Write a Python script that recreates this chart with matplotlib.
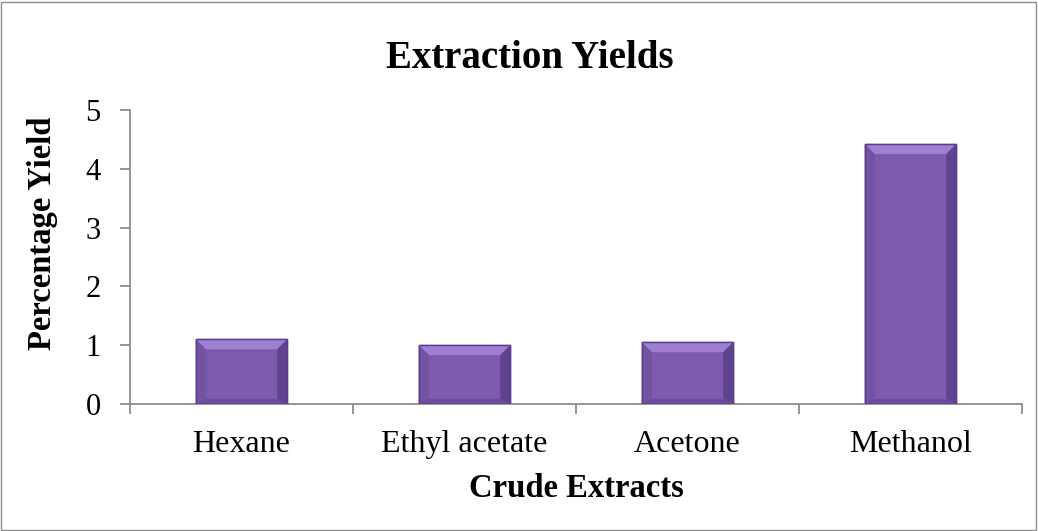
import matplotlib
matplotlib.use("Agg")
import matplotlib.pyplot as plt
from matplotlib.patches import Rectangle, Polygon
import numpy as np

categories = ["Hexane", "Ethyl acetate", "Acetone", "Methanol"]
yields = [1.1, 1.0, 1.05, 4.42]

plt.rcParams['font.family'] = ['Liberation Serif', 'DejaVu Serif']

fig = plt.figure(figsize=(10.38, 5.31), dpi=100)
ax = fig.add_axes([0.1252, 0.2392, 0.8594, 0.5536])

x = np.arange(len(categories))
bars = ax.bar(x, yields, width=0.41, color="#7d5aac", edgecolor="#5e3f8e", linewidth=1.0, zorder=3)

# bevel effect derived from each bar's geometry
bx = 0.045  # horizontal bevel (data units)
by = 0.17   # vertical bevel (data units)
for b in bars:
    x0, w, h = b.get_x(), b.get_width(), b.get_height()
    x1 = x0 + w
    bb = min(by, h * 0.3)
    top = Polygon([(x0, h), (x1, h), (x1 - bx, h - bb), (x0 + bx, h - bb)],
                  closed=True, facecolor="#9e7fd2", edgecolor="none", zorder=4)
    left = Polygon([(x0, h), (x0 + bx, h - bb), (x0 + bx, bb * 0.5), (x0, 0)],
                   closed=True, facecolor="#7152a3", edgecolor="none", zorder=4)
    right = Polygon([(x1, h), (x1 - bx, h - bb), (x1 - bx, bb * 0.5), (x1, 0)],
                    closed=True, facecolor="#5f4390", edgecolor="none", zorder=4)
    bottom = Polygon([(x0, 0), (x1, 0), (x1 - bx, bb * 0.5), (x0 + bx, bb * 0.5)],
                     closed=True, facecolor="#6b4c9c", edgecolor="none", zorder=4)
    for p in (top, left, right, bottom):
        ax.add_patch(p)
    ax.add_patch(Rectangle((x0, 0), w, h, facecolor="none", edgecolor="#5a3c8a",
                           linewidth=1.0, zorder=5))

ax.set_xlim(-0.5, len(categories) - 0.5)
ax.set_ylim(0, 5)
ax.set_yticks([0, 1, 2, 3, 4, 5])
ax.set_xticks(x)
ax.set_xticklabels(categories)
ax.set_xticks(np.arange(-0.5, len(categories), 1.0), minor=True)

for s in ["top", "right"]:
    ax.spines[s].set_visible(False)
for s in ["left", "bottom"]:
    ax.spines[s].set_color("#8c8c8c")
    ax.spines[s].set_linewidth(1.3)

ax.tick_params(axis="y", labelsize=22, length=7, color="#8c8c8c", width=1.3, pad=14)
ax.tick_params(axis="x", which="major", labelsize=23, length=0, pad=19)
ax.tick_params(axis="x", which="minor", length=7, color="#8c8c8c", width=1.3)

ax.set_xlabel("Crude Extracts", fontsize=23.5, fontweight="bold", va="baseline")
ax.xaxis.set_label_coords(0.5, -0.316)
ax.set_ylabel("Percentage Yield", fontsize=23.5, fontweight="bold", va="center")
ax.yaxis.set_label_coords(-0.0975, 0.58)
fig.text(0.51, 0.89, "Extraction Yields", fontsize=28, fontweight="bold",
         ha="center", va="center")

fig.patches.append(Rectangle((0.001, 0.002), 0.997, 0.995, transform=fig.transFigure,
                             fill=False, edgecolor="#8c8c8c", linewidth=1))

fig.savefig("out.png", dpi=100)
